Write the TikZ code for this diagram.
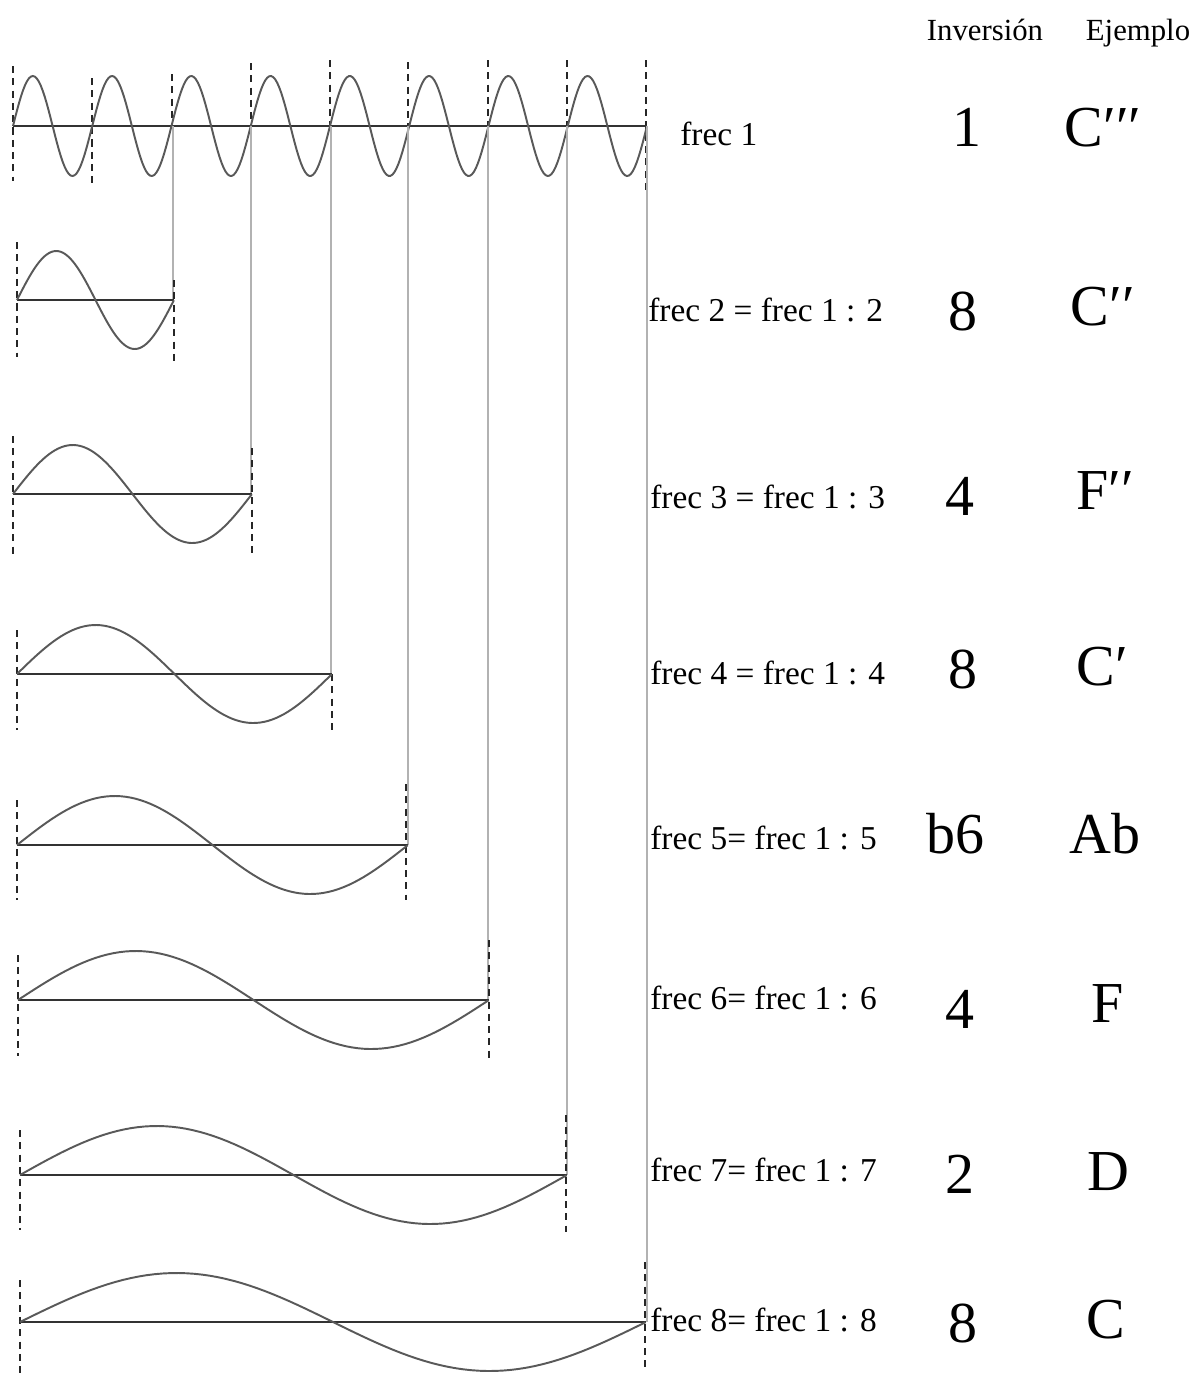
\documentclass[tikz,border=0pt]{standalone}
\usepackage{fontspec}
\setmainfont{Liberation Serif}
\usetikzlibrary{positioning}

\begin{document}
\begin{tikzpicture}[
x=0.02cm, y=-0.02cm,
onda/.style={draw=black!65, line width=1.1pt},
eje/.style={draw=black!80, line width=0.8pt},
guia/.style={draw=black!30, line width=1pt},
corte/.style={draw=black!85, line width=0.8pt, dash pattern=on 4pt off 3pt},
etiqueta/.style={anchor=west, inner sep=0pt, font=\fontsize{19}{22}\selectfont},
titulo/.style={anchor=base, font=\fontsize{17.5}{20}\selectfont},
grande/.style={anchor=base, font=\fontsize{33}{36}\selectfont}
]

% FONDO
\fill[white] (0,0) rectangle (1192,1373);
\useasboundingbox (0,0) rectangle (1192,1373);

% TITULOS
\node (inversion) [titulo] at (985,40) {Inversión};
\node (ejemplo) [titulo] at (1138,40) {Ejemplo};

% FILA 1
\draw[corte] (13,66) -- (13,181);
\draw[corte] (92,78) -- (92,188);
\draw[corte] (172,74) -- (172,126);
\draw[corte] (251,63) -- (251,126);
\draw[corte] (330,60) -- (330,126);
\draw[corte] (408,62) -- (408,190);
\draw[corte] (488,60) -- (488,126);
\draw[corte] (567,60) -- (567,126);
\draw[corte] (646,60) -- (646,190);
\draw[eje] (13,126) -- (647,126);
\draw[onda] plot[domain=0:8, samples=320] ({13+79.25*\x}, {126-50*sin(360*\x)});

% GUIAS
\coordinate (g2) at (173,126);  \coordinate (f2) at (173,300);
\coordinate (g3) at (251,126);  \coordinate (f3) at (251,494);
\coordinate (g4) at (331,126);  \coordinate (f4) at (331,674);
\coordinate (g5) at (408,126);  \coordinate (f5) at (408,845);
\coordinate (g6) at (488,126);  \coordinate (f6) at (488,1000);
\coordinate (g7) at (567,126);  \coordinate (f7) at (567,1175);
\coordinate (g8) at (647,126);  \coordinate (f8) at (647,1322);
\draw[guia] (g2) -- (f2);
\draw[guia] (g3) -- (f3);
\draw[guia] (g4) -- (f4);
\draw[guia] (g5) -- (f5);
\draw[guia] (g6) -- (f6);
\draw[guia] (g7) -- (f7);
\draw[guia] (g8) -- (f8);

% FILA 2
\draw[corte] (17,242) -- (17,357);
\draw[corte] (174,280) -- (174,362);
\draw[eje] (17,300) -- (174,300);
\draw[onda] plot[domain=0:1, samples=80] ({17+157*\x}, {300-49*sin(360*\x)});

% FILA 3
\draw[corte] (13,436) -- (13,556);
\draw[corte] (252,448) -- (252,556);
\draw[eje] (13,494) -- (252,494);
\draw[onda] plot[domain=0:1, samples=80] ({13+239*\x}, {494-49*sin(360*\x)});

% FILA 4
\draw[corte] (17,630) -- (17,730);
\draw[corte] (332,674) -- (332,732);
\draw[eje] (17,674) -- (332,674);
\draw[onda] plot[domain=0:1, samples=80] ({17+315*\x}, {674-49*sin(360*\x)});

% FILA 5
\draw[corte] (17,800) -- (17,900);
\draw[corte] (406,784) -- (406,900);
\draw[eje] (17,845) -- (408,845);
\draw[onda] plot[domain=0:1, samples=80] ({17+391*\x}, {845-49*sin(360*\x)});

% FILA 6
\draw[corte] (18,955) -- (18,1056);
\draw[corte] (489,940) -- (489,1058);
\draw[eje] (18,1000) -- (489,1000);
\draw[onda] plot[domain=0:1, samples=80] ({18+471*\x}, {1000-49*sin(360*\x)});

% FILA 7
\draw[corte] (20,1130) -- (20,1230);
\draw[corte] (566,1115) -- (566,1232);
\draw[eje] (20,1175) -- (567,1175);
\draw[onda] plot[domain=0:1, samples=80] ({20+547*\x}, {1175-49*sin(360*\x)});

% FILA 8
\draw[corte] (20,1280) -- (20,1373);
\draw[corte] (645,1262) -- (645,1370);
\draw[eje] (20,1322) -- (646,1322);
\draw[onda] plot[domain=0:1, samples=80] ({20+626*\x}, {1322-49*sin(360*\x)});

% ETIQUETAS
\node (frec1) [etiqueta] at (680,134) {frec 1};
\node (frec2) [etiqueta] at (648,310) {frec 2 = frec 1 : 2};
\node (frec3) [etiqueta] at (650,497) {frec 3 = frec 1 : 3};
\node (frec4) [etiqueta] at (650,673) {frec 4 = frec 1 : 4};
\node (frec5) [etiqueta] at (650,838) {frec 5= frec 1 : 5};
\node (frec6) [etiqueta] at (650,998) {frec 6= frec 1 : 6};
\node (frec7) [etiqueta] at (650,1170) {frec 7= frec 1 : 7};
\node (frec8) [etiqueta] at (650,1320) {frec 8= frec 1 : 8};

% INVERSION
\node (inv1) [grande] at (967,146) {1};
\node (inv2) [grande] at (963,330) {8};
\node (inv3) [grande] at (960,515) {4};
\node (inv4) [grande] at (963,688) {8};
\node (inv5) [grande] at (955,853) {b6};
\node (inv6) [grande] at (960,1028) {4};
\node (inv7) [grande] at (960,1193) {2};
\node (inv8) [grande] at (963,1342) {8};

% EJEMPLO
\node (ej1) [grande] at (1103,146) {C′′′};
\node (ej2) [grande] at (1103,325) {C′′};
\node (ej3) [grande] at (1105,509) {F′′};
\node (ej4) [grande] at (1102,685) {C′};
\node (ej5) [grande] at (1105,853) {Ab};
\node (ej6) [grande] at (1108,1022) {F};
\node (ej7) [grande] at (1108,1190) {D};
\node (ej8) [grande] at (1106,1338) {C};

\end{tikzpicture}
\end{document}
